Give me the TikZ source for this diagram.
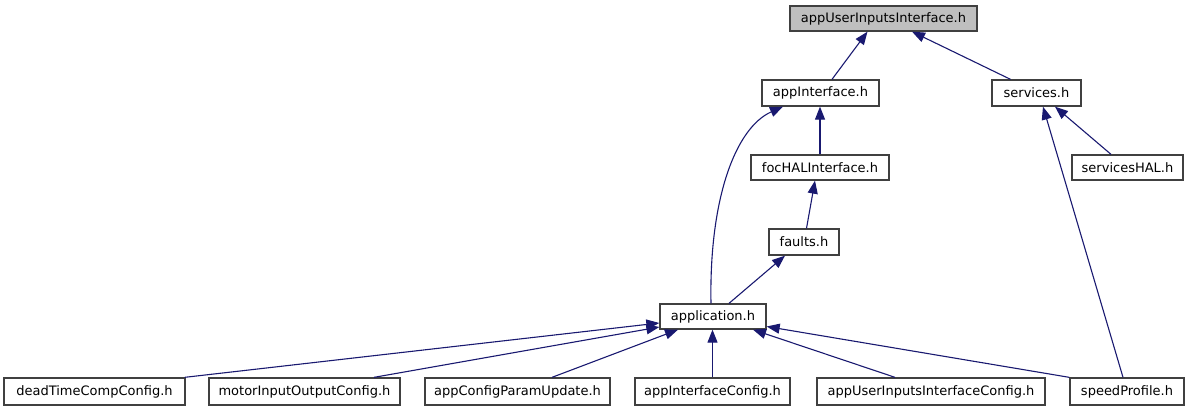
\documentclass[tikz,border=0pt]{standalone}
\usepackage{fontspec}
\setmainfont{DejaVu Sans}
\usetikzlibrary{arrows.meta}
\definecolor{edgeblue}{HTML}{191970}
\definecolor{rootgray}{HTML}{BFBFBF}
\definecolor{boxborder}{HTML}{404040}
\begin{document}
\begin{tikzpicture}[x=1pt,y=-1pt,
  box/.style={draw=boxborder, line width=1.3pt, fill=white, inner sep=0pt, minimum height=25pt,
    font=\fontsize{13}{15}\selectfont},
  edge/.style={draw=edgeblue, line width=1.1pt, -{Triangle[length=13pt,width=10pt]}}]
\useasboundingbox (0,0) rectangle (1192,411);
% nodes
\node[box, fill=rootgray, minimum width=187pt] (A) at (883.5,18.5) {appUserInputsInterface.h};
\node[box, minimum width=117pt, minimum height=26pt] (B) at (820.5,93) {appInterface.h};
\node[box, minimum width=89pt, minimum height=26pt] (C) at (1036.5,93) {services.h};
\node[box, minimum width=138pt] (D) at (820,167.5) {focHALInterface.h};
\node[box, minimum width=111pt] (E) at (1127.5,167.5) {servicesHAL.h};
\node[box, minimum width=70pt, minimum height=26pt] (F) at (804,242) {faults.h};
\node[box, minimum width=106pt] (G) at (713,316.5) {application.h};
\node[box, minimum width=181pt, minimum height=27pt] (H) at (94.5,391.5) {deadTimeCompConfig.h};
\node[box, minimum width=191pt, minimum height=27pt] (I) at (304.5,391.5) {motorInputOutputConfig.h};
\node[box, minimum width=185pt, minimum height=27pt] (J) at (517.5,391.5) {appConfigParamUpdate.h};
\node[box, minimum width=155pt, minimum height=27pt] (K) at (712.5,391.5) {appInterfaceConfig.h};
\node[box, minimum width=228pt, minimum height=27pt] (L) at (931,391.5) {appUserInputsInterfaceConfig.h};
\node[box, minimum width=114pt, minimum height=27pt] (M) at (1127,391.5) {speedProfile.h};
% edges
\draw[edge] ([xshift=11.5pt]B.north) -- ([xshift=-16pt]A.south);
\draw[edge] ([xshift=-26pt]C.north) -- ([xshift=28.5pt]A.south);
\draw[edge] (D.north) -- (D.north |- B.south);
\draw[edge] ([xshift=-2pt]G.north) .. controls (709,200) and (735,128) .. ([xshift=-37.5pt]B.south);
\draw[edge] ([xshift=2.5pt]F.north) -- ([xshift=-5pt]D.south);
\draw[edge] ([xshift=16pt]G.north) -- ([xshift=-19pt]F.south);
\draw[edge] ([xshift=-16.5pt]E.north) -- ([xshift=18.5pt]C.south);
\draw[edge] ([xshift=-4pt]M.north) -- ([xshift=6.5pt]C.south);
\draw[edge] ([xshift=-1pt]H.north east) -- ([yshift=-6.5pt]G.west);
\draw[edge] ([xshift=69.5pt]I.north) -- ([yshift=-10.5pt]G.west);
\draw[edge] ([xshift=34.5pt]J.north) -- ([xshift=-35pt]G.south);
\draw[edge] (K.north) -- (K.north |- G.south);
\draw[edge] ([xshift=-36pt]L.north) -- ([xshift=40pt]G.south);
\draw[edge] (M.north west) -- ([yshift=-10pt]G.east);
\end{tikzpicture}
\end{document}
